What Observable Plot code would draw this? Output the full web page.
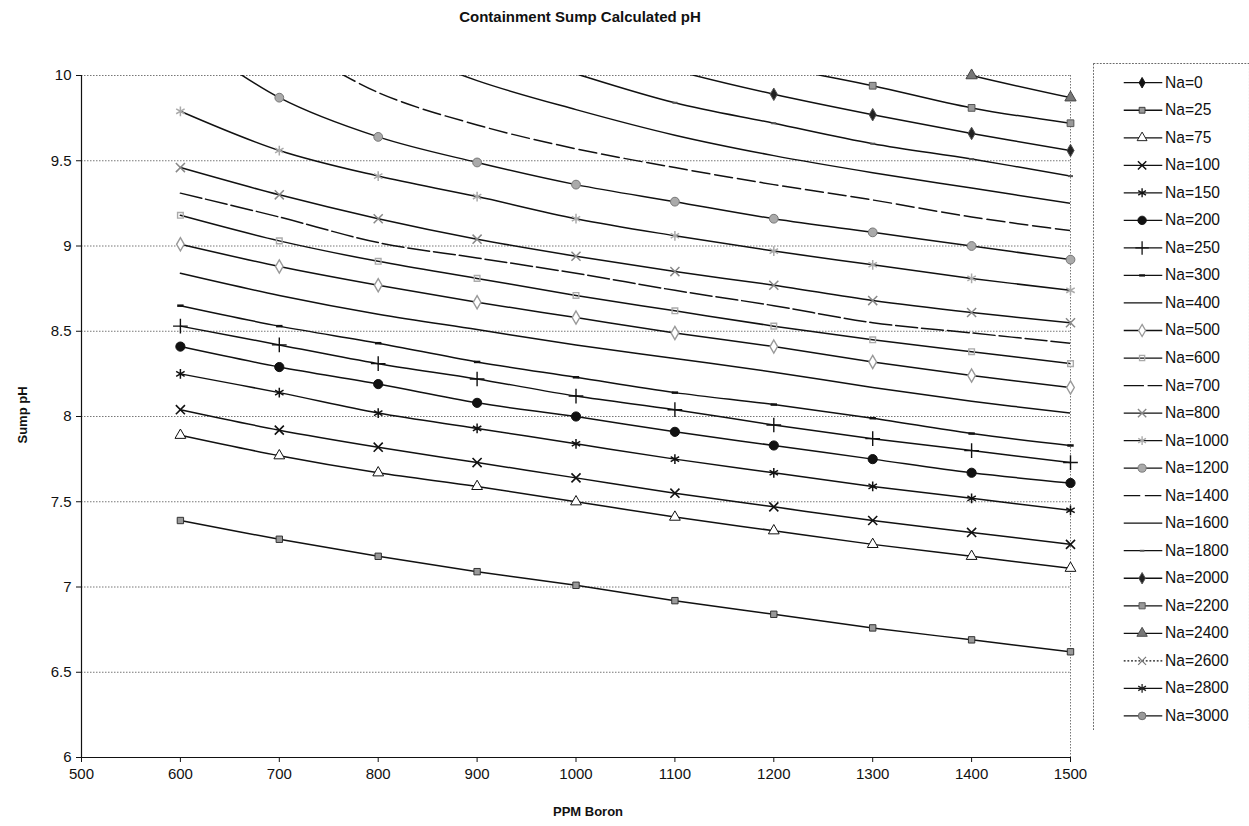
<!DOCTYPE html>
<html><head><meta charset="utf-8">
<script src="https://cdn.jsdelivr.net/npm/d3@7"></script>
<script src="https://cdn.jsdelivr.net/npm/@observablehq/plot@0.6"></script>
<style>
body{margin:0;background:#fff;font-family:"Liberation Sans",Arial,sans-serif;color:#111;}
#wrap{position:relative;width:1249px;height:826px;overflow:hidden;background:#fff;}
#chart{position:absolute;left:0;top:0;}
#title{position:absolute;top:8px;left:0;width:1160px;text-align:center;font-size:15px;font-weight:bold;}
#ylab{position:absolute;left:22px;top:415px;transform:translate(-50%,-50%) rotate(-90deg);font-size:13px;font-weight:bold;white-space:nowrap;}
#xlab{position:absolute;left:588px;top:804px;transform:translateX(-50%);font-size:13px;font-weight:bold;white-space:nowrap;}
#legend{position:absolute;left:1093px;top:63px;}
</style></head><body>
<div id="wrap"><div id="chart"></div><div id="title">Containment Sump Calculated pH</div><div id="ylab">Sump pH</div><div id="xlab">PPM Boron</div><div id="legend"></div></div>
<script>
// ---- data ----
const boronPPM = [600, 700, 800, 900, 1000, 1100, 1200, 1300, 1400, 1500];
const seriesNames = ["Na=0","Na=25","Na=75","Na=100","Na=150","Na=200","Na=250","Na=300","Na=400","Na=500","Na=600","Na=700","Na=800","Na=1000","Na=1200","Na=1400","Na=1600","Na=1800","Na=2000","Na=2200","Na=2400","Na=2600","Na=2800","Na=3000"];
const yTicks = [6, 6.5, 7, 7.5, 8, 8.5, 9, 9.5, 10];
const xTicks = [500, 600, 700, 800, 900, 1000, 1100, 1200, 1300, 1400, 1500];

const phNa0    = [null, null, null, null, null, null, null, null, null, null];
const phNa25   = [7.39, 7.28, 7.18, 7.09, 7.01, 6.92, 6.84, 6.76, 6.69, 6.62];
const phNa75   = [7.89, 7.77, 7.67, 7.59, 7.50, 7.41, 7.33, 7.25, 7.18, 7.11];
const phNa100  = [8.04, 7.92, 7.82, 7.73, 7.64, 7.55, 7.47, 7.39, 7.32, 7.25];
const phNa150  = [8.25, 8.14, 8.02, 7.93, 7.84, 7.75, 7.67, 7.59, 7.52, 7.45];
const phNa200  = [8.41, 8.29, 8.19, 8.08, 8.00, 7.91, 7.83, 7.75, 7.67, 7.61];
const phNa250  = [8.53, 8.42, 8.31, 8.22, 8.12, 8.04, 7.95, 7.87, 7.80, 7.73];
const phNa300  = [8.65, 8.53, 8.43, 8.32, 8.23, 8.14, 8.07, 7.99, 7.90, 7.83];
const phNa400  = [8.84, 8.71, 8.60, 8.51, 8.42, 8.34, 8.26, 8.17, 8.09, 8.02];
const phNa500  = [9.01, 8.88, 8.77, 8.67, 8.58, 8.49, 8.41, 8.32, 8.24, 8.17];
const phNa600  = [9.18, 9.03, 8.91, 8.81, 8.71, 8.62, 8.53, 8.45, 8.38, 8.31];
const phNa700  = [9.31, 9.17, 9.02, 8.93, 8.84, 8.74, 8.65, 8.55, 8.49, 8.43];
const phNa800  = [9.46, 9.30, 9.16, 9.04, 8.94, 8.85, 8.77, 8.68, 8.61, 8.55];
const phNa1000 = [9.79, 9.56, 9.41, 9.29, 9.16, 9.06, 8.97, 8.89, 8.81, 8.74];
const phNa1200 = [10.25, 9.87, 9.64, 9.49, 9.36, 9.26, 9.16, 9.08, 9.00, 8.92];
const phNa1400 = [null, 10.22, 9.90, 9.71, 9.57, 9.46, 9.36, 9.27, 9.17, 9.09];
const phNa1600 = [null, null, 10.20, 9.97, 9.80, 9.65, 9.53, 9.43, 9.34, 9.25];
const phNa1800 = [null, null, null, 10.20, 10.01, 9.84, 9.72, 9.60, 9.51, 9.41];
const phNa2000 = [null, null, null, null, 10.20, 10.03, 9.89, 9.77, 9.66, 9.56];
const phNa2200 = [null, null, null, null, null, 10.22, 10.06, 9.94, 9.81, 9.72];
const phNa2400 = [null, null, null, null, null, null, 10.30, 10.15, 10.00, 9.87];
const phNa2600 = [null, null, null, null, null, null, null, null, null, null];
const phNa2800 = [null, null, null, null, null, null, null, null, null, null];
const phNa3000 = [null, null, null, null, null, null, null, null, null, null];

const phBySeries = [phNa0, phNa25, phNa75, phNa100, phNa150, phNa200, phNa250, phNa300, phNa400, phNa500, phNa600, phNa700, phNa800, phNa1000, phNa1200, phNa1400, phNa1600, phNa1800, phNa2000, phNa2200, phNa2400, phNa2600, phNa2800, phNa3000];

// ---- styles ----
const dash = {draw(ctx, size){ const r = Math.sqrt(size / Math.PI); ctx.moveTo(-r, 0); ctx.lineTo(r, 0); }};
const styles = [
  {symbol:"diamond", r:3.5, fill:"#111", stroke:"#111"},
  {symbol:"square", r:3.6, fill:"#999", stroke:"#333"},
  {symbol:"triangle", r:4, fill:"white", stroke:"#111"},
  {symbol:"times", r:4.2, fill:"none", stroke:"#111", sw:1.6},
  {symbol:"asterisk", r:4.6, fill:"none", stroke:"#111", sw:1.5},
  {symbol:"circle", r:4.6, fill:"#111", stroke:"#111"},
  {symbol:"plus", r:4.8, fill:"none", stroke:"#111", sw:1.4},
  {symbol:dash, r:3.2, fill:"none", stroke:"#111", sw:2.5},
  {symbol:null},
  {symbol:"diamond", r:4, fill:"white", stroke:"#999", sw:1.4},
  {symbol:"square2", r:3.6, fill:"none", stroke:"#aaa", sw:1.4},
  {symbol:null, dashArr:"22,4"},
  {symbol:"times", r:4.2, fill:"none", stroke:"#888", sw:1.5},
  {symbol:"asterisk", r:4.6, fill:"none", stroke:"#aaa", sw:1.5},
  {symbol:"circle", r:4.4, fill:"#aaa", stroke:"#777"},
  {symbol:null, dashArr:"18,5"},
  {symbol:null},
  {symbol:dash, r:2.5, fill:"none", stroke:"#555", sw:2},
  {symbol:"diamond", r:3.8, fill:"#222", stroke:"#555"},
  {symbol:"square", r:3.8, fill:"#999", stroke:"#555"},
  {symbol:"triangle", r:4.2, fill:"#777", stroke:"#444"},
  {symbol:"times", r:4, fill:"none", stroke:"#777", sw:1.3, dashArr:"2,2"},
  {symbol:"asterisk", r:4.6, fill:"none", stroke:"#222", sw:1.4},
  {symbol:"circle", r:4.2, fill:"#999", stroke:"#666"}
];

const rows = seriesNames.flatMap((s, i) => boronPPM.map((b, j) => ({series: s, boron: b, ph: phBySeries[i][j]})));

const seriesMarks = seriesNames.flatMap((s, i) => {
  const st = styles[i];
  const data = rows.filter(d => d.series === s);
  const m = [Plot.line(data, {x: "boron", y: "ph", curve: "catmull-rom", stroke: "#111", strokeWidth: 1.5, strokeDasharray: st.dashArr, clip: true})];
  if (st.symbol) m.push(Plot.dot(data.filter(d => d.ph != null && d.ph <= 10.001), {x: "boron", y: "ph", symbol: st.symbol, r: st.r, fill: st.fill, stroke: st.stroke, strokeWidth: st.sw || 1}));
  return m;
});

const chart = Plot.plot({
  width: 1090, height: 826,
  marginTop: 75, marginRight: 20, marginBottom: 69, marginLeft: 81,
  style: {fontFamily: "'Liberation Sans', Arial, sans-serif", fontSize: "15px", color: "#111", background: "white", overflow: "visible"},
  x: {domain: [500, 1500], ticks: xTicks.length - 1, tickFormat: d => String(d), tickSize: 5, tickPadding: 6, label: null},
  y: {domain: [6, 10], ticks: yTicks.length - 1, tickFormat: d => String(d), tickSize: 5, tickPadding: 5, label: null},
  marks: [
    Plot.ruleY(yTicks.slice(1), {stroke: "#777", strokeWidth: 1, strokeDasharray: "1.5,1.5"}),
    Plot.ruleX([1500], {stroke: "#777", strokeDasharray: "1.5,1.5"}),
    ...seriesMarks,
    Plot.ruleY([6], {stroke: "#111", strokeWidth: 1.2}),
    Plot.ruleX([500], {stroke: "#111", strokeWidth: 1.2})
  ]
});
document.getElementById("chart").append(chart);

// ---- legend ----
const legendMarks = seriesNames.flatMap((s, i) => {
  const st = styles[i];
  const m = [Plot.link([s], {x1: 33, x2: 75, y1: d => d, y2: d => d, stroke: "#111", strokeWidth: 1.4, strokeDasharray: st.dashArr})];
  if (st.symbol) m.push(Plot.dot([s], {x: 53, y: d => d, symbol: st.symbol, r: st.r, fill: st.fill, stroke: st.stroke, strokeWidth: st.sw || 1}));
  return m;
});
const legend = Plot.plot({
  width: 170, height: 727, margin: 0,
  style: {fontFamily: "'Liberation Sans', Arial, sans-serif", fontSize: "17px", color: "#111", background: "white"},
  x: {domain: [0, 170], range: [0, 170], axis: null},
  y: {type: "point", domain: seriesNames, range: [17, 715], padding: 0, axis: null},
  marks: [
    Plot.frame({stroke: "#555", strokeDasharray: "2,1.5"}),
    ...legendMarks,
    Plot.text(seriesNames, {x: 78, y: d => d, text: d => d, textAnchor: "start", fill: "#111"})
  ]
});
document.getElementById("legend").append(legend);
</script>
</body></html>
